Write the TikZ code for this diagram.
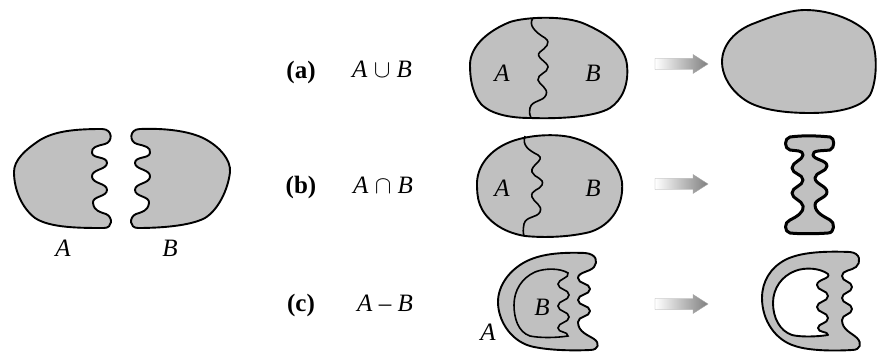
\documentclass[tikz,border=0pt]{standalone}
\usepackage{fontspec}
\setmainfont{Liberation Serif}
\usetikzlibrary{shadings}
\definecolor{shapegray}{RGB}{192,192,192}
\tikzset{
  blob/.style={fill=shapegray, draw=black, line width=1.9pt, line join=round},
  thinline/.style={draw=black, line width=1.6pt},
  lbl/.style={inner sep=0pt, font=\fontsize{25}{29}\selectfont},
  tag/.style={inner sep=0pt, font=\fontsize{25}{29}\selectfont\bfseries},
  arrowshade/.style={left color=white, right color=black!50, draw=black!35, line width=0.4pt}
}
\newcommand{\opArrow}[1]{%
  \shade[arrowshade] (655,#1-5.5) -- (693,#1-5.5) -- (693,#1-9.5) -- (708,#1) -- (693,#1+9.5) -- (693,#1+5.5) -- (655,#1+5.5) -- cycle;}
\newcommand{\bigop}[1]{{\fontsize{31}{31}\selectfont$#1$}}
\begin{document}
\begin{tikzpicture}[x=1pt,y=-1pt]
\useasboundingbox (0,0) rectangle (877,352);

% ---------- left: A and B ----------
\draw[blob] (14,172) .. controls (14,160) and (25,150) .. (40,140)
  .. controls (55,131) and (75,129) .. (102,129)
  .. controls (113,129) and (113,142) .. (105,144)
  .. controls (97,146) and (91,147) .. (92,153)
  .. controls (93,159) and (107,156) .. (107,163)
  .. controls (107,170) and (91,169) .. (92,177)
  .. controls (93,184) and (107,183) .. (107,190)
  .. controls (107,197) and (92,196) .. (93,203)
  .. controls (94,211) and (100,212) .. (106,214)
  .. controls (113,217) and (113,228) .. (104,228)
  .. controls (80,228) and (50,228) .. (35,218)
  .. controls (22,208) and (14,190) .. (14,172) -- cycle;
\draw[blob] (140,129) .. controls (129,129) and (129,142) .. (137,144)
  .. controls (145,146) and (151,147) .. (150,153)
  .. controls (149,159) and (135,156) .. (135,163)
  .. controls (135,170) and (151,169) .. (150,177)
  .. controls (149,184) and (135,183) .. (135,190)
  .. controls (135,197) and (150,196) .. (149,203)
  .. controls (148,211) and (142,212) .. (136,214)
  .. controls (129,217) and (129,228) .. (138,228)
  .. controls (160,228) and (190,226) .. (205,218)
  .. controls (218,210) and (228,190) .. (230,172)
  .. controls (231,160) and (220,147) .. (205,139)
  .. controls (190,131) and (165,128) .. (140,129) -- cycle;
\node[lbl] (la) at (63,248) {\textit{A}};
\node[lbl] (lb) at (170,248) {\textit{B}};

% ---------- labels ----------
\node[tag] (ta) at (301,72) {(a)};
\node[tag] (tb) at (301,187) {(b)};
\node[tag] (tc) at (301,305) {(c)};
\node[lbl, anchor=base] (ea) at (382,78) {\textit{A} \bigop{\cup} \textit{B}};
\node[lbl, anchor=base] (eb) at (383,194) {\textit{A} \bigop{\cap} \textit{B}};
\node[lbl] (ec) at (385,303) {\textit{A} – \textit{B}};

% ---------- (a) ----------
\draw[blob] (470,65) .. controls (470,45) and (490,30) .. (510,22)
  .. controls (525,17) and (565,15) .. (585,24)
  .. controls (605,33) and (625,45) .. (627,65)
  .. controls (629,85) and (622,100) .. (610,108)
  .. controls (595,117) and (560,119) .. (530,118)
  .. controls (505,118) and (485,112) .. (478,100)
  .. controls (472,90) and (470,78) .. (470,65) -- cycle;
\draw[thinline] (533,18) .. controls (528,25) and (535,32) .. (545,38)
  .. controls (552,43) and (545,48) .. (540,52)
  .. controls (534,57) and (548,62) .. (548,67)
  .. controls (548,73) and (537,74) .. (538,80)
  .. controls (539,85) and (549,88) .. (546,95)
  .. controls (543,102) and (532,100) .. (530,108)
  .. controls (529,113) and (530,116) .. (531,118);
\node[lbl] (aa) at (502,73) {\textit{A}};
\node[lbl] (ab) at (593,73) {\textit{B}};
\opArrow{64}
\draw[blob] (722,62) .. controls (722,45) and (735,30) .. (755,23)
  .. controls (770,17) and (790,10) .. (805,10)
  .. controls (830,10) and (855,20) .. (868,33)
  .. controls (878,45) and (878,80) .. (870,95)
  .. controls (862,107) and (840,113) .. (810,113)
  .. controls (785,113) and (760,110) .. (745,100)
  .. controls (730,90) and (722,75) .. (722,62) -- cycle;

% ---------- (b) ----------
\draw[blob] (477,182) .. controls (478,165) and (490,150) .. (510,142)
  .. controls (525,136) and (550,133) .. (570,137)
  .. controls (595,143) and (618,158) .. (622,182)
  .. controls (624,205) and (612,225) .. (590,232)
  .. controls (570,237) and (545,238) .. (525,236)
  .. controls (500,232) and (485,218) .. (480,205)
  .. controls (477,197) and (477,190) .. (477,182) -- cycle;
\draw[thinline] (525,136) .. controls (522,145) and (528,150) .. (538,155)
  .. controls (546,160) and (530,165) .. (532,172)
  .. controls (534,178) and (545,178) .. (542,185)
  .. controls (540,190) and (530,190) .. (532,197)
  .. controls (534,203) and (543,205) .. (540,212)
  .. controls (537,218) and (526,216) .. (524,224)
  .. controls (523,229) and (523,233) .. (524,236);
\node[lbl] (ba) at (502,188) {\textit{A}};
\node[lbl] (bb) at (593,188) {\textit{B}};
\opArrow{184}
\draw[blob, line width=3pt] (790,137) .. controls (805,135) and (820,136) .. (830,137)
  .. controls (835,138) and (835,148) .. (830,150)
  .. controls (822,151) and (812,150) .. (813,155)
  .. controls (814,160) and (827,160) .. (827,166)
  .. controls (827,172) and (815,172) .. (815,178)
  .. controls (815,184) and (827,186) .. (827,192)
  .. controls (827,198) and (815,199) .. (815,205)
  .. controls (815,213) and (825,217) .. (830,220)
  .. controls (835,222) and (835,233) .. (828,233)
  .. controls (815,234) and (800,234) .. (790,233)
  .. controls (784,232) and (784,222) .. (790,220)
  .. controls (796,217) and (804,213) .. (803,206)
  .. controls (802,200) and (792,199) .. (792,193)
  .. controls (792,187) and (803,186) .. (803,180)
  .. controls (803,174) and (792,174) .. (792,168)
  .. controls (792,162) and (803,160) .. (803,155)
  .. controls (803,150) and (796,151) .. (790,150)
  .. controls (784,149) and (784,138) .. (790,137) -- cycle;

% ---------- (c) ----------
\draw[blob] (498,302) .. controls (498,285) and (510,270) .. (525,262)
  .. controls (540,254) and (560,252) .. (585,253)
  .. controls (597,254) and (598,262) .. (594,267)
  .. controls (590,272) and (578,272) .. (578,278)
  .. controls (578,284) and (590,283) .. (590,289)
  .. controls (590,295) and (578,294) .. (578,300)
  .. controls (578,306) and (590,305) .. (590,311)
  .. controls (590,317) and (578,316) .. (578,322)
  .. controls (578,332) and (588,335) .. (594,339)
  .. controls (600,343) and (599,350) .. (590,350)
  .. controls (570,351) and (545,350) .. (530,346)
  .. controls (510,340) and (498,320) .. (498,302) -- cycle;
\draw[thinline] (568,273) .. controls (570,278) and (558,279) .. (558,284)
  .. controls (558,290) and (569,289) .. (569,295)
  .. controls (569,301) and (558,300) .. (558,306)
  .. controls (558,312) and (569,311) .. (569,317)
  .. controls (569,323) and (558,322) .. (558,328)
  .. controls (558,333) and (568,331) .. (568,336)
  .. controls (555,338) and (540,338) .. (530,336)
  .. controls (518,332) and (514,318) .. (514,305)
  .. controls (514,290) and (522,278) .. (535,272)
  .. controls (545,268) and (560,268) .. (568,273) -- cycle;
\node[lbl] (cb) at (542,307) {\textit{B}};
\node[lbl] (ca) at (488,332) {\textit{A}};
\opArrow{304}
\draw[blob, even odd rule]
  (762,298) .. controls (762,282) and (770,268) .. (785,260)
  .. controls (800,252) and (825,251) .. (850,252)
  .. controls (861,253) and (861,263) .. (856,267)
  .. controls (851,271) and (842,270) .. (842,276)
  .. controls (842,282) and (852,281) .. (852,287)
  .. controls (852,293) and (842,292) .. (842,298)
  .. controls (842,304) and (852,303) .. (852,309)
  .. controls (852,315) and (842,314) .. (842,320)
  .. controls (842,330) and (852,333) .. (857,338)
  .. controls (862,343) and (861,350) .. (852,350)
  .. controls (835,351) and (810,351) .. (795,346)
  .. controls (775,340) and (762,320) .. (762,298) -- cycle
  (828,274) .. controls (831,279) and (817,279) .. (817,285)
  .. controls (817,291) and (828,290) .. (828,296)
  .. controls (828,302) and (817,301) .. (817,307)
  .. controls (817,313) and (828,312) .. (828,318)
  .. controls (828,324) and (818,323) .. (818,328)
  .. controls (818,333) and (828,331) .. (828,335)
  .. controls (815,337) and (800,337) .. (792,335)
  .. controls (780,331) and (773,318) .. (773,303)
  .. controls (773,288) and (782,276) .. (795,271)
  .. controls (805,267) and (820,268) .. (828,274) -- cycle;
\end{tikzpicture}
\end{document}
